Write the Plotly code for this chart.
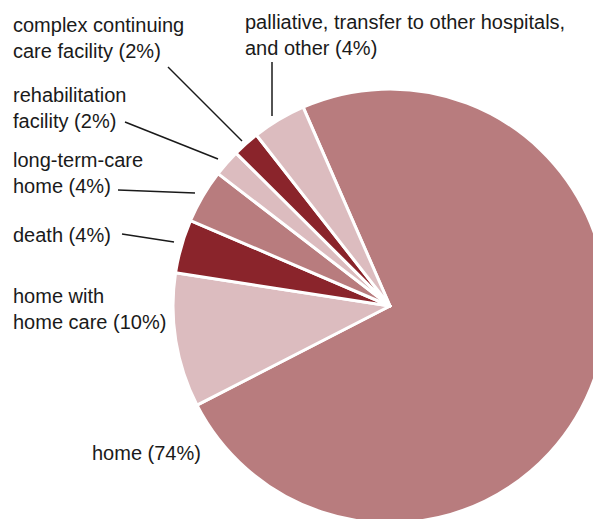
import plotly.graph_objects as go

# Data
categories = ["home", "home with home care", "death", "long-term-care home",
              "rehabilitation facility", "complex continuing care facility",
              "palliative, transfer to other hospitals, and other"]
values = [74, 10, 4, 4, 2, 2, 4]
label_texts = [
    "home (74%)",
    "home with<br>home care (10%)",
    "death (4%)",
    "long-term-care<br>home (4%)",
    "rehabilitation<br>facility (2%)",
    "complex continuing<br>care facility (2%)",
    "palliative, transfer to other hospitals,<br>and other (4%)",
]

# Style
colors = ["#b87c7e", "#dcbcbf", "#8a242b", "#b87c7e", "#dcbcbf", "#8a242b", "#dcbcbf"]
W, H = 700, 600
cx, cy, R = 390, 306, 217
FONT = "Liberation Sans Narrow, Arial Narrow, sans-serif"

fig = go.Figure()
fig.add_trace(go.Pie(
    labels=categories, values=values, sort=False, direction="clockwise",
    rotation=-23.6, marker=dict(colors=colors, line=dict(color="white", width=3)),
    textinfo="none", hoverinfo="label+percent", showlegend=False,
    domain=dict(x=[(cx - R) / W, (cx + R) / W],
                y=[(H - cy - R) / H, (H - cy + R) / H]),
))

# label positions (pixel layout coords) and leader lines
label_pos = [(90, 453), (11, 309), (11, 235), (11, 173), (11, 108), (11, 38), (243, 35)]
leaders = [None, None, (122, 234, 174, 242), (118, 190, 195, 193),
           (125, 122, 218, 159), (168, 67, 242, 141), (272, 62, 272, 116)]

annotations = []
shapes = []
for txt, (x, y) in zip(label_texts, label_pos):
    annotations.append(dict(x=x, y=y, xref="x", yref="y", text=txt, showarrow=False,
                            xanchor="left", yanchor="middle", align="left",
                            font=dict(family=FONT, size=20, color="#1a1a1a")))
for ld in leaders:
    if ld:
        x0, y0, x1, y1 = ld
        shapes.append(dict(type="line", xref="x", yref="y", x0=x0, y0=y0, x1=x1, y1=y1,
                           line=dict(color="#1a1a1a", width=1.5)))

fig.update_layout(
    width=W, height=H, margin=dict(l=0, r=0, t=0, b=0),
    paper_bgcolor="white", plot_bgcolor="rgba(0,0,0,0)",
    xaxis=dict(range=[0, W], visible=False, fixedrange=True),
    yaxis=dict(range=[H, 0], visible=False, fixedrange=True),
    annotations=annotations, shapes=shapes,
)

fig.write_html("out.html",
               post_script="document.body.style.margin='0';document.body.style.overflow='hidden';")
